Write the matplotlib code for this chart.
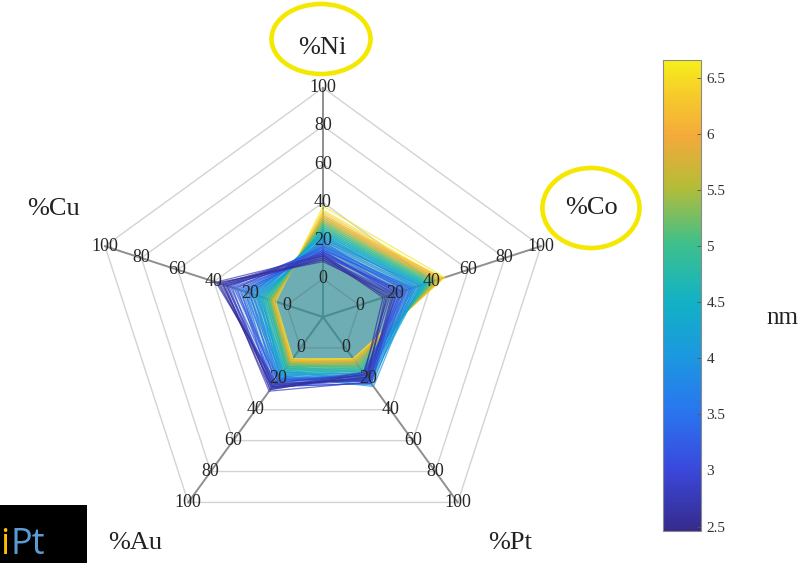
import numpy as np
import matplotlib
matplotlib.use("Agg")
import matplotlib.pyplot as plt
from matplotlib.colors import LinearSegmentedColormap, Normalize
from matplotlib.cm import ScalarMappable
from matplotlib.patches import Ellipse, Rectangle

# ---- data -----------------------------------------------------------------
axis_labels = ["%Ni", "%Co", "%Pt", "%Au", "%Cu"]
ring_values = [0, 20, 40, 60, 80, 100]
colorbar_ticks = [2.5, 3, 3.5, 4, 4.5, 5, 5.5, 6, 6.5]
colorbar_ticklabels = ["2.5", "3", "3.5", "4", "4.5", "5", "5.5", "6", "6.5"]

# particle size (nm) and composition (%) of each particle
size_nm = [2.50, 2.55, 2.60, 2.65, 2.70, 2.75, 2.80, 2.86, 2.92, 2.98,
           3.04, 3.10, 3.16, 3.22, 3.28, 3.34, 3.40, 3.46, 3.52, 3.58,
           3.64, 3.70, 3.76, 3.82, 3.88, 3.94, 4.00, 4.06, 4.12, 4.18,
           4.24, 4.30, 4.36, 4.42, 4.48, 4.55, 4.62, 4.70, 4.78, 4.86,
           4.94, 5.02, 5.10, 5.18, 5.26, 5.35, 5.45, 5.55, 5.66, 5.78,
           5.90, 6.02, 6.14, 6.26, 6.36, 6.46, 6.54, 6.60]
pct_ni = [10, 12, 9, 11, 13, 10, 12, 14, 11, 13,
          15, 12, 14, 16, 13, 17, 15, 14, 18, 16,
          17, 19, 15, 18, 20, 17, 21, 19, 22, 20,
          23, 21, 24, 22, 25, 23, 26, 24, 27, 25,
          28, 26, 29, 27, 30, 28, 31, 29, 32, 30,
          33, 31, 34, 32, 35, 33, 36, 38]
pct_co = [15, 13, 18, 16, 14, 19, 17, 21, 20, 23,
          19, 24, 22, 26, 21, 25, 28, 24, 27, 23,
          29, 26, 30, 28, 31, 29, 33, 30, 32, 34,
          31, 35, 33, 36, 34, 37, 35, 38, 36, 39,
          37, 40, 38, 41, 39, 42, 40, 43, 41, 44,
          42, 45, 43, 46, 44, 46, 45, 47]
pct_pt = [19, 17, 21, 16, 20, 22, 18, 19, 23, 17,
          20, 18, 21, 16, 19, 22, 18, 20, 17, 23,
          19, 21, 18, 24, 20, 22, 19, 25, 17, 21,
          23, 18, 20, 16, 22, 15, 18, 14, 16, 13,
          15, 12, 14, 11, 13, 10, 12, 9, 11, 9,
          10, 8, 9, 8, 7, 8, 7, 7]
pct_au = [25, 27, 23, 26, 24, 28, 22, 26, 25, 27,
          24, 21, 25, 23, 26, 20, 24, 22, 21, 25,
          19, 23, 20, 18, 21, 17, 20, 18, 16, 19,
          15, 17, 16, 18, 14, 16, 13, 15, 12, 14,
          13, 12, 11, 13, 10, 12, 10, 11, 9, 10,
          9, 9, 8, 8, 9, 7, 8, 7]
pct_cu = [37, 35, 38, 33, 36, 34, 39, 32, 35, 30,
          33, 29, 27, 31, 25, 28, 23, 26, 22, 24,
          21, 20, 23, 19, 18, 21, 17, 16, 19, 15,
          17, 14, 16, 13, 15, 14, 12, 13, 11, 12,
          10, 11, 10, 9, 10, 9, 8, 9, 8, 8,
          7, 8, 7, 8, 7, 7, 7, 6]

# ---- colormap (parula-like) -------------------------------------------------
parula_like = LinearSegmentedColormap.from_list("parula_like", [
    (0.00, "#362b8c"), (0.13, "#3a48dc"), (0.25, "#2a74ee"), (0.37, "#1c98e0"),
    (0.49, "#12b2c4"), (0.61, "#3ec08c"), (0.73, "#b4bc38"), (0.84, "#f4aa3a"),
    (0.93, "#f6cc2a"), (1.00, "#f6ef1a")])
norm = Normalize(vmin=2.46, vmax=6.66)

# ---- layout ------------------------------------------------------------------
W, H = 807, 563
CX, CY = 323, 317          # radar centre in pixels
UNIT = 1.91                # pixels per percent
OFFSET = 20                # the 0 % ring sits one ring away from the centre
SERIF = "Liberation Serif"

fig = plt.figure(figsize=(W / 100, H / 100), dpi=100)
ax = fig.add_axes([0, 0, 1, 1])
ax.set_xlim(-CX / UNIT, (W - CX) / UNIT)
ax.set_ylim(-(H - CY) / UNIT, CY / UNIT)
ax.axis("off")


def px(x, y):
    """Pixel position -> radar data coordinates."""
    return (x - CX) / UNIT, (CY - y) / UNIT


angles = np.deg2rad([90, 18, -54, -126, 162])
cos_a, sin_a = np.cos(angles), np.sin(angles)


def to_xy(values):
    r = np.asarray(values, dtype=float) + OFFSET
    x = r * cos_a
    y = r * sin_a
    return np.append(x, x[0]), np.append(y, y[0])


# grid rings
for v in ring_values:
    gx, gy = to_xy([v] * 5)
    ax.plot(gx, gy, color="#d3d3d3", lw=1.0, zorder=1)

# spokes
r_max = ring_values[-1] + OFFSET
for ca, sa in zip(cos_a, sin_a):
    ax.plot([0, r_max * ca], [0, r_max * sa], color="#8f8f8f", lw=1.4, zorder=2)

# composition polygons (largest particles drawn first)
rows = list(zip(size_nm, pct_ni, pct_co, pct_pt, pct_au, pct_cu))
for s, ni, co, pt, au, cu in reversed(rows):
    xs, ys = to_xy([ni, co, pt, au, cu])
    ax.fill(xs, ys, color="#3291a0", alpha=0.017, lw=0, zorder=3)
    ax.plot(xs, ys, color=parula_like(norm(s)), lw=0.9, alpha=0.7, zorder=4)

# tick labels along each axis
for ca, sa in zip(cos_a, sin_a):
    for v in ring_values:
        r = v + OFFSET
        ax.text(r * ca, r * sa, str(v), ha="center", va="center", fontsize=13,
                family=SERIF, color="#262626", zorder=6)

# axis titles
title_px = [(322, 48), (592, 208), (510, 543), (135, 543), (53, 209)]
for lab, (tx, ty) in zip(axis_labels, title_px):
    ax.text(*px(tx, ty), lab, ha="center", va="center", fontsize=19,
            family=SERIF, color="#222222", zorder=6)

# highlight rings around %Ni and %Co
for (ex, ey), ew, eh in [((321, 39), 99, 70), ((591, 208), 97, 80)]:
    ax.add_patch(Ellipse(px(ex, ey), ew / UNIT, eh / UNIT, fill=False,
                         ec="#f5e800", lw=3.3, zorder=7, clip_on=False))

# colour bar
cax = fig.add_axes([663 / W, (H - 531) / H, 38 / W, 471 / H])
sm = ScalarMappable(norm=norm, cmap=parula_like)
cb = fig.colorbar(sm, cax=cax, ticks=colorbar_ticks)
cb.set_ticklabels(colorbar_ticklabels)
cb.outline.set_edgecolor("#8a8a8a")
cb.outline.set_linewidth(0.8)
cax.tick_params(direction="in", length=3, width=0.6, color="#555555",
                labelsize=11, labelcolor="#333333", pad=4)
for t in cax.get_yticklabels():
    t.set_family(SERIF)
fig.text(782 / W, 1 - 318 / H, "nm", ha="center", va="center", fontsize=18,
         family=SERIF, color="#222222")

# "iPt" tag in the corner
fig.patches.append(Rectangle((0, 0), 87 / W, 58 / H, transform=fig.transFigure,
                             facecolor="black", edgecolor="none", zorder=0))
fig.text(0 / W, 0, "i", ha="left", va="bottom", fontsize=26,
         family="Open Sans", color="#ffc000")
fig.text(10 / W, 0, "Pt", ha="left", va="bottom", fontsize=26,
         family="Open Sans", color="#5b9bd5")

fig.savefig("out.png", dpi=100)
